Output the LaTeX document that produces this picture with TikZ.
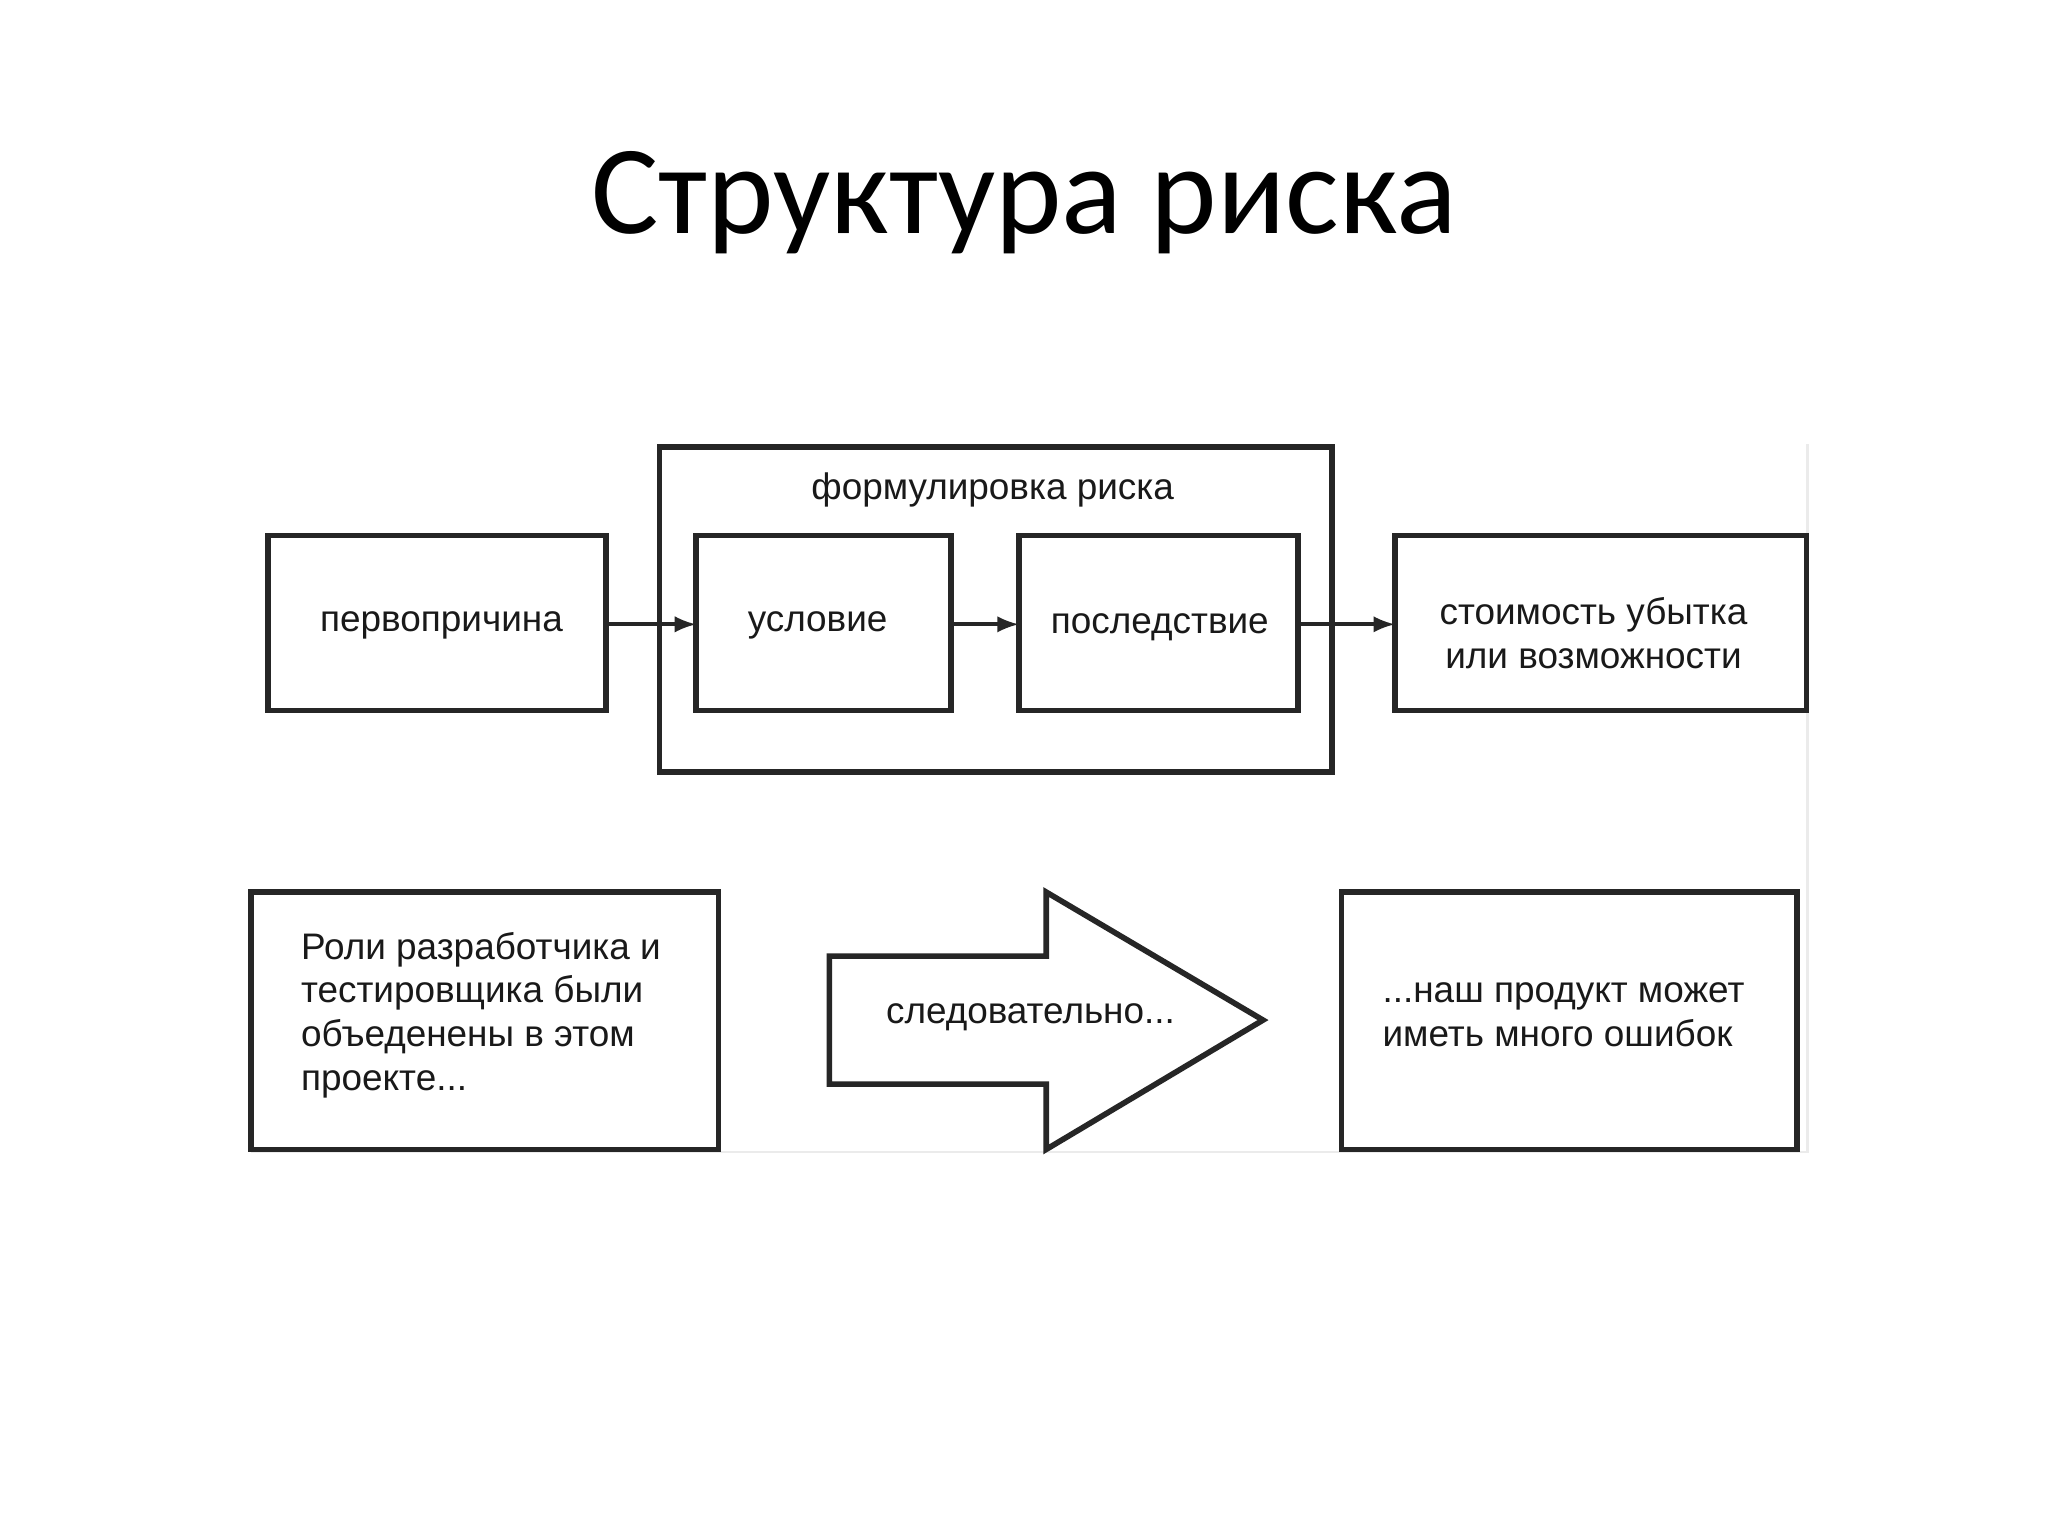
\documentclass[tikz,border=0pt]{standalone}
\usepackage{fontspec}
\setmainfont{Liberation Sans}
\newfontfamily\titlefont{Carlito}
\begin{document}
\begin{tikzpicture}[x=0.01306cm,y=-0.01306cm,
  box/.style={draw=black!85,line width=1.6pt},
  lbl/.style={font=\fontsize{10.5pt}{12.5pt}\selectfont,text=black!90},
  arr/.style={-latex,line width=1.1pt,draw=black!85}]
\useasboundingbox (0,0) rectangle (1568,1176);
\fill[white] (0,0) rectangle (1568,1176);
\node[font=\titlefont\fontsize{36pt}{40pt}\selectfont] (title) at (784,155) {Структура риска};
\draw[black!8,line width=0.8pt] (1384,340) -- (1384,882) -- (192,882);
\draw[box] (505,342) rectangle (1020,591);
\node[lbl] (form) at (760,375) {формулировка риска};
\draw[box] (205,410) rectangle (464,544);
\coordinate (pR) at (464,478);
\node[lbl] (pt) at (338,479) {первопричина};
\draw[box] (533,410) rectangle (728,544);
\coordinate (uL) at (533,478); \coordinate (uR) at (728,478);
\node[lbl] (ut) at (626,479) {условие};
\draw[box] (780,410) rectangle (994,544);
\coordinate (sL) at (780,478); \coordinate (sR) at (994,478);
\node[lbl] (st) at (888,480) {последствие};
\draw[box] (1068,410) rectangle (1383,544);
\coordinate (cL) at (1068,478);
\node[lbl,align=center] (ct) at (1220,485) {стоимость убытка\\или возможности};
\draw[arr] (pR) -- (uL);
\draw[arr] (uR) -- (sL);
\draw[arr] (sR) -- (cL);
\draw[box] (192,683) rectangle (550,880);
\node[lbl,align=left,anchor=north west,inner sep=0] (lt) at (230,713) {Роли разработчика и\\тестировщика были\\объеденены в этом\\проекте...};
\draw[box,line join=miter] (635,732) -- (801,732) -- (801,683) -- (967,781) -- (801,880) -- (801,830) -- (635,830) -- cycle;
\node[lbl] (at) at (789,779) {следовательно...};
\draw[box] (1027,683) rectangle (1376,880);
\node[lbl,align=left,anchor=north west,inner sep=0] (rt) at (1058,752) {...наш продукт может\\иметь много ошибок};
\end{tikzpicture}
\end{document}
